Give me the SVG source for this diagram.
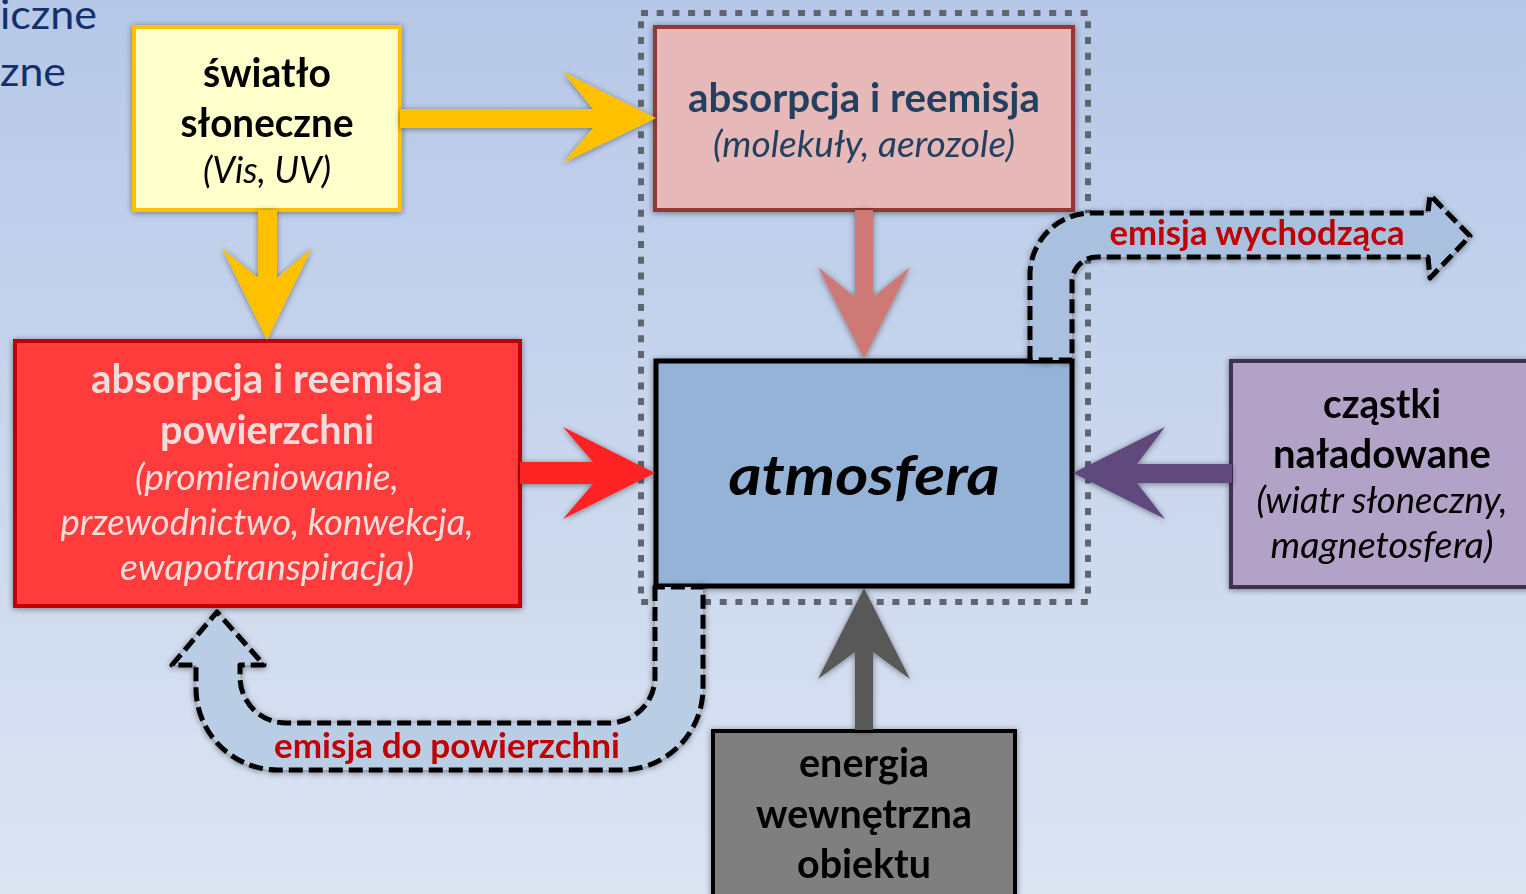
<svg xmlns="http://www.w3.org/2000/svg" width="1526" height="894" viewBox="0 0 1526 894">
<defs>
<linearGradient id="bg" x1="0" y1="0" x2="0" y2="1">
<stop offset="0" stop-color="#b6c8e8"/>
<stop offset="1" stop-color="#dce4f2"/>
</linearGradient>
<filter id="sh" x="-20%" y="-20%" width="140%" height="140%">
<feGaussianBlur in="SourceAlpha" stdDeviation="3"/>
<feOffset dx="0" dy="1" result="b"/>
<feComponentTransfer><feFuncA type="linear" slope="0.45"/></feComponentTransfer>
<feMerge><feMergeNode/><feMergeNode in="SourceGraphic"/></feMerge>
</filter>
<style>
text{font-family:Lato,"Open Sans","Liberation Sans",sans-serif;text-anchor:middle}
.b{font-weight:bold;font-size:40px}
.i{font-style:italic;font-size:37px}
.box{stroke-width:4}
.curve{stroke:#000;stroke-width:5;stroke-dasharray:14 6;stroke-linejoin:round}
.lab{font-weight:bold;font-size:34px;fill:#c00000}
</style>
</defs>
<rect width="1526" height="894" fill="url(#bg)"/>
<text x="97" y="29" style="font-size:40px;fill:#13306a;text-anchor:end" textLength="97" lengthAdjust="spacingAndGlyphs">iczne</text>
<text x="66" y="86" style="font-size:40px;fill:#13306a;text-anchor:end" textLength="66" lengthAdjust="spacingAndGlyphs">zne</text>

<rect id="atmosphere-boundary" x="641" y="13" width="447" height="589" fill="none" stroke="#5f6670" stroke-width="6" stroke-dasharray="7 8.7"/>

<g id="swiatlo" filter="url(#sh)">
<rect class="box" x="134" y="27" width="266" height="183" fill="#ffffcc" stroke="#ffc000"/>
<text class="b" x="267" y="87" fill="#000" textLength="128" lengthAdjust="spacingAndGlyphs">światło</text>
<text class="b" x="267" y="137" fill="#000" textLength="173" lengthAdjust="spacingAndGlyphs">słoneczne</text>
<text class="i" x="267" y="183" fill="#000" textLength="128" lengthAdjust="spacingAndGlyphs">(Vis, UV)</text>
</g>

<g id="absorpcja-atm" filter="url(#sh)">
<rect class="box" x="655" y="27" width="418" height="183" fill="#e6b9b8" stroke="#953735"/>
<text class="b" x="864" y="112" fill="#243f60" textLength="352" lengthAdjust="spacingAndGlyphs">absorpcja i reemisja</text>
<text class="i" x="864" y="157" fill="#243f60" textLength="302" lengthAdjust="spacingAndGlyphs">(molekuły, aerozole)</text>
</g>

<g id="absorpcja-pow" filter="url(#sh)">
<rect class="box" x="15" y="341" width="505" height="265" fill="#ff3b3b" stroke="#c00000"/>
<text class="b" x="267" y="393" fill="#f2dcdb" textLength="352" lengthAdjust="spacingAndGlyphs">absorpcja i reemisja</text>
<text class="b" x="267" y="444" fill="#f2dcdb" textLength="214" lengthAdjust="spacingAndGlyphs">powierzchni</text>
<text class="i" x="267" y="490" fill="#f2dcdb" textLength="264" lengthAdjust="spacingAndGlyphs">(promieniowanie,</text>
<text class="i" x="267" y="535" fill="#f2dcdb" textLength="413" lengthAdjust="spacingAndGlyphs">przewodnictwo, konwekcja,</text>
<text class="i" x="267" y="580" fill="#f2dcdb" textLength="294" lengthAdjust="spacingAndGlyphs">ewapotranspiracja)</text>
</g>

<g id="atmosfera" filter="url(#sh)">
<rect x="656" y="361" width="416" height="225" fill="#95b3d7" stroke="#000" stroke-width="5"/>
<text x="864" y="495" style="font-weight:bold;font-style:italic;font-size:56px" fill="#000" textLength="271" lengthAdjust="spacingAndGlyphs">atmosfera</text>
</g>

<g id="czastki" filter="url(#sh)">
<rect class="box" x="1231" y="361" width="320" height="226" fill="#b3a2c7" stroke="#403152"/>
<text class="b" x="1382" y="418" fill="#000" textLength="118" lengthAdjust="spacingAndGlyphs">cząstki</text>
<text class="b" x="1382" y="468" fill="#000" textLength="218" lengthAdjust="spacingAndGlyphs">naładowane</text>
<text class="i" x="1382" y="513" fill="#000" textLength="251" lengthAdjust="spacingAndGlyphs">(wiatr słoneczny,</text>
<text class="i" x="1382" y="558" fill="#000" textLength="223" lengthAdjust="spacingAndGlyphs">magnetosfera)</text>
</g>

<g id="energia" filter="url(#sh)">
<rect class="box" x="713" y="731" width="302" height="180" fill="#7f7f7f" stroke="#000"/>
<text class="b" x="864" y="777" fill="#000" textLength="130" lengthAdjust="spacingAndGlyphs">energia</text>
<text class="b" x="864" y="828" fill="#000" textLength="216" lengthAdjust="spacingAndGlyphs">wewnętrzna</text>
<text class="b" x="864" y="878" fill="#000" textLength="134" lengthAdjust="spacingAndGlyphs">obiektu</text>
</g>

<g id="connectors" filter="url(#sh)">
<polygon points="400,109 593,109 563,72 656,118 563,163 593,128 400,128" fill="#ffc000"/>
<polygon points="258,210 258,278 222,248 267,340 312,248 277,278 277,210" fill="#ffc000"/>
<polygon points="855,210 855,297 818,267 864,359 910,267 873,297 873,210" fill="#cd7a77"/>
<polygon points="520,462 593,462 563,427 655,473 563,519 593,484 520,484" fill="#ff2121"/>
<polygon points="1232,464 1137,464 1165,427 1073,473 1165,519 1137,483 1232,483" fill="#604a7b"/>
<polygon points="855,730 855,652 818,679 864,588 910,679 873,652 873,730" fill="#595959"/>
<path class="curve" d="M1030,360 L1030,275 A62,62 0 0 1 1092,213 L1428,213 L1430,195 L1470,236 L1430,278 L1428,257 L1097,257 A25,25 0 0 0 1072,282 L1072,360 Z" fill="#a9c0df"/>
<text class="lab" x="1257" y="245" textLength="295" lengthAdjust="spacingAndGlyphs">emisja wychodząca</text>
<path class="curve" d="M655,587 L655,677 A46,46 0 0 1 609,723 L286,723 A46,46 0 0 1 240,677 L240,665 L264,665 L217,612 L172,665 L196,665 L196,688 A82,82 0 0 0 278,770 L621,770 A82,82 0 0 0 703,688 L703,587 Z" fill="#b9cde5"/>
<text class="lab" x="447" y="758" textLength="346" lengthAdjust="spacingAndGlyphs">emisja do powierzchni</text>
</g>
</svg>
